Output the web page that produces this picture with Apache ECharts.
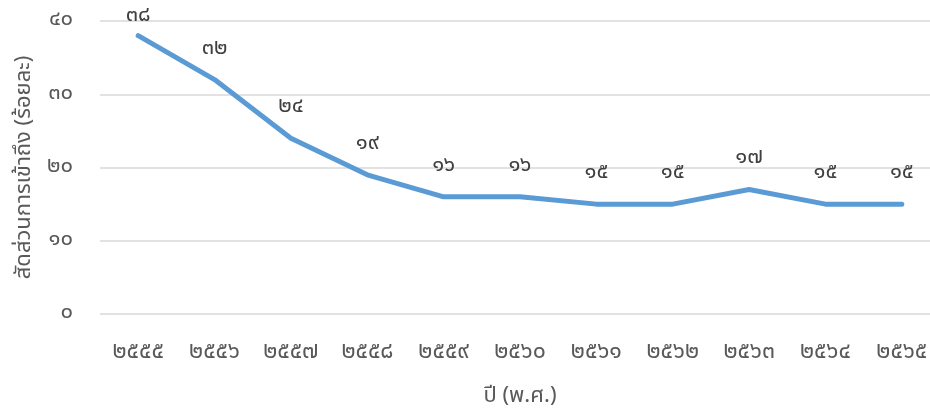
<!DOCTYPE html>
<html><head><meta charset="utf-8">
<script src="https://cdn.jsdelivr.net/npm/echarts@6/dist/echarts.min.js"></script>
<style>html,body{margin:0;padding:0;background:#fff}#c{width:930px;height:409px}</style>
</head><body><div id="c"></div>
<script>
const categories = ['๒๕๕๕','๒๕๕๖','๒๕๕๗','๒๕๕๘','๒๕๕๙','๒๕๖๐','๒๕๖๑','๒๕๖๒','๒๕๖๓','๒๕๖๔','๒๕๖๕'];
const values = [38,32,24,19,16,16,15,15,17,15,15];
const yTickLabels = {0:'๐',10:'๑๐',20:'๒๐',30:'๓๐',40:'๔๐'};
const thaiDigits = '๐๑๒๓๔๕๖๗๘๙';
const toThai = v => String(v).replace(/[0-9]/g, d => thaiDigits[+d]);
const FONT = "'Noto Sans Thai','Tahoma','Leelawadee UI',sans-serif";

const chart = echarts.init(document.getElementById('c'));
chart.setOption({
  animation:false,
  grid:{left:100,width:840,top:21,height:293,containLabel:false,outerBoundsMode:'none'},
  xAxis:{type:'category',data:categories,boundaryGap:true,
    axisLine:{show:false},axisTick:{show:false},
    axisLabel:{margin:28,fontSize:23,color:'#595959',fontFamily:FONT},
    name:'ปี (พ.ศ.)',nameLocation:'middle',nameGap:73,
    nameTextStyle:{fontSize:22,color:'#595959',fontFamily:FONT}},
  yAxis:{type:'value',min:0,max:40,interval:10,
    axisLine:{show:false},axisTick:{show:false},
    splitLine:{lineStyle:{color:'#d9d9d9',width:1.5}},
    axisLabel:{margin:27,fontSize:22,color:'#595959',fontFamily:FONT,
      formatter:v=>yTickLabels[v]},
    name:'สัดส่วนการเข้าถึง (ร้อยละ)',nameLocation:'middle',nameGap:62,
    nameTextStyle:{fontSize:22,color:'#595959',fontFamily:FONT}},
  series:[{type:'line',data:values.map((v,i)=>({value:v,label:{distance:i===0?8:19}})),
    symbol:'circle',symbolSize:1,showSymbol:true,itemStyle:{color:'rgba(0,0,0,0)'},
    lineStyle:{color:'#5B9BD5',width:5,cap:'round',join:'round'},
    labelLayout:{hideOverlap:false},
    label:{show:true,position:'top',fontSize:22,color:'#404040',fontFamily:FONT,
      formatter:p=>toThai(p.value)}}]
});
</script></body></html>
